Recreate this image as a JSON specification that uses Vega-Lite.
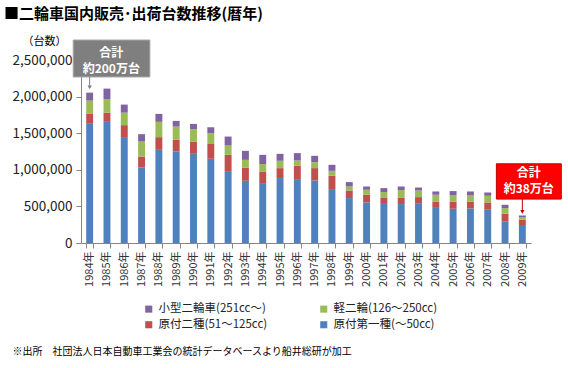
{
  "$schema": "https://vega.github.io/schema/vega-lite/v6.json",
  "width": 450,
  "height": 183,
  "autosize": {"type": "none"},
  "padding": {"left": 81, "top": 60, "right": 37, "bottom": 125},
  "background": "white",
  "config": {"font": "Noto Sans CJK JP", "view": {"stroke": null}},
  "title": {
    "text": "■二輪車国内販売･出荷台数推移(暦年)",
    "anchor": "start",
    "frame": "group",
    "fontSize": 15,
    "fontWeight": "bold",
    "font": "Noto Sans CJK JP",
    "color": "black",
    "dx": -77,
    "offset": 13
  },
  "resolve": {"scale": {"x": "independent"}, "axis": {"x": "independent", "y": "independent"}},
  "layer": [
    {
      "data": {
        "values": [
          {"year": "1984年", "原付第一種(〜50cc)": 1637000, "原付二種(51〜125cc)": 127000, "軽二輪(126〜250cc)": 181000, "小型二輪車(251cc〜)": 109000},
          {"year": "1985年", "原付第一種(〜50cc)": 1655000, "原付二種(51〜125cc)": 126000, "軽二輪(126〜250cc)": 183000, "小型二輪車(251cc〜)": 145000},
          {"year": "1986年", "原付第一種(〜50cc)": 1436000, "原付二種(51〜125cc)": 174000, "軽二輪(126〜250cc)": 171000, "小型二輪車(251cc〜)": 110000},
          {"year": "1987年", "原付第一種(〜50cc)": 1031000, "原付二種(51〜125cc)": 150000, "軽二輪(126〜250cc)": 205000, "小型二輪車(251cc〜)": 101000},
          {"year": "1988年", "原付第一種(〜50cc)": 1273000, "原付二種(51〜125cc)": 173000, "軽二輪(126〜250cc)": 209000, "小型二輪車(251cc〜)": 109000},
          {"year": "1989年", "原付第一種(〜50cc)": 1250000, "原付二種(51〜125cc)": 159000, "軽二輪(126〜250cc)": 181000, "小型二輪車(251cc〜)": 78000},
          {"year": "1990年", "原付第一種(〜50cc)": 1218000, "原付二種(51〜125cc)": 168000, "軽二輪(126〜250cc)": 169000, "小型二輪車(251cc〜)": 72000},
          {"year": "1991年", "原付第一種(〜50cc)": 1150000, "原付二種(51〜125cc)": 204000, "軽二輪(126〜250cc)": 146000, "小型二輪車(251cc〜)": 82000},
          {"year": "1992年", "原付第一種(〜50cc)": 982000, "原付二種(51〜125cc)": 222000, "軽二輪(126〜250cc)": 127000, "小型二輪車(251cc〜)": 123000},
          {"year": "1993年", "原付第一種(〜50cc)": 850000, "原付二種(51〜125cc)": 177000, "軽二輪(126〜250cc)": 109000, "小型二輪車(251cc〜)": 123000},
          {"year": "1994年", "原付第一種(〜50cc)": 818000, "原付二種(51〜125cc)": 159000, "軽二輪(126〜250cc)": 101000, "小型二輪車(251cc〜)": 126000},
          {"year": "1995年", "原付第一種(〜50cc)": 887000, "原付二種(51〜125cc)": 136000, "軽二輪(126〜250cc)": 100000, "小型二輪車(251cc〜)": 95000},
          {"year": "1996年", "原付第一種(〜50cc)": 863000, "原付二種(51〜125cc)": 191000, "軽二輪(126〜250cc)": 73000, "小型二輪車(251cc〜)": 101000},
          {"year": "1997年", "原付第一種(〜50cc)": 854000, "原付二種(51〜125cc)": 169000, "軽二輪(126〜250cc)": 82000, "小型二輪車(251cc〜)": 86000},
          {"year": "1998年", "原付第一種(〜50cc)": 737000, "原付二種(51〜125cc)": 181000, "軽二輪(126〜250cc)": 68000, "小型二輪車(251cc〜)": 82000},
          {"year": "1999年", "原付第一種(〜50cc)": 614000, "原付二種(51〜125cc)": 103000, "軽二輪(126〜250cc)": 55000, "小型二輪車(251cc〜)": 60000},
          {"year": "2000年", "原付第一種(〜50cc)": 554000, "原付二種(51〜125cc)": 105000, "軽二輪(126〜250cc)": 68000, "小型二輪車(251cc〜)": 45000},
          {"year": "2001年", "原付第一種(〜50cc)": 546000, "原付二種(51〜125cc)": 76000, "軽二輪(126〜250cc)": 74000, "小型二輪車(251cc〜)": 54000},
          {"year": "2002年", "原付第一種(〜50cc)": 532000, "原付二種(51〜125cc)": 90000, "軽二輪(126〜250cc)": 101000, "小型二輪車(251cc〜)": 49000},
          {"year": "2003年", "原付第一種(〜50cc)": 536000, "原付二種(51〜125cc)": 91000, "軽二輪(126〜250cc)": 90000, "小型二輪車(251cc〜)": 41000},
          {"year": "2004年", "原付第一種(〜50cc)": 491000, "原付二種(51〜125cc)": 76000, "軽二輪(126〜250cc)": 92000, "小型二輪車(251cc〜)": 45000},
          {"year": "2005年", "原付第一種(〜50cc)": 468000, "原付二種(51〜125cc)": 95000, "軽二輪(126〜250cc)": 92000, "小型二輪車(251cc〜)": 54000},
          {"year": "2006年", "原付第一種(〜50cc)": 472000, "原付二種(51〜125cc)": 91000, "軽二輪(126〜250cc)": 86000, "小型二輪車(251cc〜)": 55000},
          {"year": "2007年", "原付第一種(〜50cc)": 454000, "原付二種(51〜125cc)": 100000, "軽二輪(126〜250cc)": 91000, "小型二輪車(251cc〜)": 45000},
          {"year": "2008年", "原付第一種(〜50cc)": 291000, "原付二種(51〜125cc)": 109000, "軽二輪(126〜250cc)": 77000, "小型二輪車(251cc〜)": 45000},
          {"year": "2009年", "原付第一種(〜50cc)": 246000, "原付二種(51〜125cc)": 72000, "軽二輪(126〜250cc)": 37000, "小型二輪車(251cc〜)": 21000}
        ]
      },
      "transform": [
        {"fold": ["原付第一種(〜50cc)", "原付二種(51〜125cc)", "軽二輪(126〜250cc)", "小型二輪車(251cc〜)"], "as": ["type", "value"]},
        {"calculate": "indexof(['原付第一種(〜50cc)', '原付二種(51〜125cc)', '軽二輪(126〜250cc)', '小型二輪車(251cc〜)'], datum.type)", "as": "k"}
      ],
      "mark": {"type": "bar"},
      "encoding": {
        "x": {
          "field": "year",
          "type": "nominal",
          "sort": null,
          "scale": {"paddingInner": 0.6, "paddingOuter": 0.3},
          "axis": {
            "title": "※出所　社団法人日本自動車工業会の統計データベースより船井総研が加工",
            "titleFont": "Noto Sans CJK JP",
            "titleFontSize": 10,
            "titleFontWeight": "normal",
            "titleColor": "black",
            "titleAlign": "left",
            "titleAnchor": "start",
            "titleBaseline": "middle",
            "titleX": -69,
            "titleY": 108,
            "labelAngle": -90,
            "labelFontSize": 11,
            "labelColor": "#333333",
            "labelPadding": 3,
            "tickBand": "extent",
            "tickSize": 5,
            "domainColor": "#868686",
            "tickColor": "#868686"
          }
        },
        "y": {
          "field": "value",
          "type": "quantitative",
          "stack": "zero",
          "scale": {"domain": [0, 2500000], "nice": false},
          "axis": {
            "title": "（台数）",
            "titleAngle": 0,
            "titleX": -59,
            "titleY": -19,
            "titleAlign": "left",
            "titleBaseline": "middle",
            "titleFontSize": 11,
            "titleFontWeight": "normal",
            "titleColor": "black",
            "values": [0, 500000, 1000000, 1500000, 2000000, 2500000],
            "format": ",d",
            "labelFontSize": 13.5,
            "labelColor": "#222222",
            "grid": false,
            "tickSize": 5,
            "labelPadding": 4,
            "domainColor": "#868686",
            "tickColor": "#868686"
          }
        },
        "color": {
          "field": "type",
          "type": "nominal",
          "scale": {
            "domain": ["小型二輪車(251cc〜)", "原付二種(51〜125cc)", "軽二輪(126〜250cc)", "原付第一種(〜50cc)"],
            "range": ["#8064A2", "#C0504D", "#9BBB59", "#4F81BD"]
          },
          "legend": {
            "title": null,
            "orient": "none",
            "legendX": 62,
            "legendY": 243,
            "columns": 2,
            "columnPadding": 50,
            "rowPadding": 3,
            "padding": 0,
            "symbolType": "square",
            "symbolSize": 50,
            "symbolStrokeWidth": 0,
            "labelFontSize": 11.5,
            "labelColor": "#222222",
            "labelFont": "Noto Sans CJK JP"
          }
        },
        "order": {"field": "k", "type": "quantitative"}
      }
    },
    {
      "data": {"values": [{"x1": -0.45, "x2": 3.98, "y1": 2268000, "y2": 2773000}]},
      "mark": {"type": "rect", "fill": "#7F7F7F", "stroke": "#A6A6A6", "strokeWidth": 1},
      "encoding": {
        "x": {"field": "x1", "type": "quantitative", "scale": {"domain": [0, 26], "nice": false, "zero": false}, "axis": null},
        "x2": {"field": "x2"},
        "y": {"field": "y1", "type": "quantitative", "scale": {"domain": [0, 2500000], "nice": false}, "axis": null},
        "y2": {"field": "y2"}
      }
    },
    {
      "data": {"values": [{"x1": 24.0, "x2": 27.75, "y1": 600000, "y2": 1082000}]},
      "mark": {"type": "rect", "fill": "#FF0000", "stroke": "#C00000", "strokeWidth": 1},
      "encoding": {
        "x": {"field": "x1", "type": "quantitative", "scale": {"domain": [0, 26], "nice": false, "zero": false}, "axis": null},
        "x2": {"field": "x2"},
        "y": {"field": "y1", "type": "quantitative", "scale": {"domain": [0, 2500000], "nice": false}, "axis": null},
        "y2": {"field": "y2"}
      }
    },
    {
      "data": {"values": [
        {"x": 1.75, "y": 2595000, "label": "合計\n約200万台"},
        {"x": 25.87, "y": 955000, "label": "合計\n約38万台"}
      ]},
      "mark": {"type": "text", "color": "white", "fontSize": 12, "fontWeight": "bold", "lineBreak": "\n", "lineHeight": 16, "align": "center", "baseline": "middle", "font": "Noto Sans CJK JP"},
      "encoding": {
        "x": {"field": "x", "type": "quantitative", "scale": {"domain": [0, 26], "nice": false, "zero": false}, "axis": null},
        "y": {"field": "y", "type": "quantitative", "scale": {"domain": [0, 2500000], "nice": false}, "axis": null},
        "text": {"field": "label"}
      }
    },
    {
      "data": {"values": [{"x": 0.5, "y1": 2268000, "y2": 2140000}]},
      "mark": {"type": "rule", "color": "#7F7F7F", "strokeWidth": 1},
      "encoding": {
        "x": {"field": "x", "type": "quantitative", "scale": {"domain": [0, 26], "nice": false, "zero": false}, "axis": null},
        "y": {"field": "y1", "type": "quantitative", "scale": {"domain": [0, 2500000], "nice": false}, "axis": null},
        "y2": {"field": "y2"}
      }
    },
    {
      "data": {"values": [{"x": 0.5, "y": 2125000}]},
      "mark": {"type": "point", "shape": "triangle-down", "filled": true, "color": "#7F7F7F", "size": 18, "opacity": 1},
      "encoding": {
        "x": {"field": "x", "type": "quantitative", "scale": {"domain": [0, 26], "nice": false, "zero": false}, "axis": null},
        "y": {"field": "y", "type": "quantitative", "scale": {"domain": [0, 2500000], "nice": false}, "axis": null}
      }
    },
    {
      "data": {"values": [{"x": 25.5, "y1": 600000, "y2": 440000}]},
      "mark": {"type": "rule", "color": "#C00000", "strokeWidth": 1},
      "encoding": {
        "x": {"field": "x", "type": "quantitative", "scale": {"domain": [0, 26], "nice": false, "zero": false}, "axis": null},
        "y": {"field": "y1", "type": "quantitative", "scale": {"domain": [0, 2500000], "nice": false}, "axis": null},
        "y2": {"field": "y2"}
      }
    },
    {
      "data": {"values": [{"x": 25.5, "y": 425000}]},
      "mark": {"type": "point", "shape": "triangle-down", "filled": true, "color": "#C00000", "size": 18, "opacity": 1},
      "encoding": {
        "x": {"field": "x", "type": "quantitative", "scale": {"domain": [0, 26], "nice": false, "zero": false}, "axis": null},
        "y": {"field": "y", "type": "quantitative", "scale": {"domain": [0, 2500000], "nice": false}, "axis": null}
      }
    }
  ]
}
